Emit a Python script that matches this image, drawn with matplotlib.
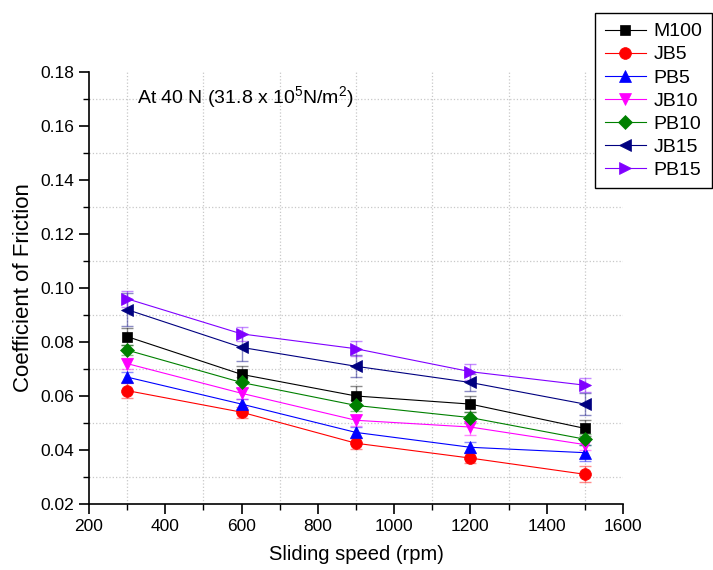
import matplotlib

matplotlib.use("Agg")
import matplotlib.pyplot as plt  # noqa: E402
from matplotlib.ticker import MultipleLocator, FormatStrFormatter  # noqa: E402

plt.rcParams["font.family"] = ["Liberation Sans", "DejaVu Sans"]
plt.rcParams["mathtext.fontset"] = "custom"
plt.rcParams["mathtext.rm"] = "Liberation Sans"

speed = [300, 600, 900, 1200, 1500]

series_names = ["M100", "JB5", "PB5", "JB10", "PB10", "JB15", "PB15"]
m100 = [0.082, 0.068, 0.060, 0.057, 0.048]
jb5 = [0.062, 0.054, 0.0425, 0.037, 0.031]
pb5 = [0.067, 0.057, 0.0465, 0.041, 0.039]
jb10 = [0.072, 0.061, 0.051, 0.0485, 0.042]
pb10 = [0.077, 0.065, 0.0565, 0.052, 0.044]
jb15 = [0.092, 0.078, 0.071, 0.065, 0.057]
pb15 = [0.096, 0.083, 0.0775, 0.069, 0.064]

m100_err = [0.003, 0.003, 0.0037, 0.003, 0.003]
jb5_err = [0.0027, 0.002, 0.002, 0.002, 0.003]
pb5_err = [0.002, 0.002, 0.002, 0.002, 0.003]
jb10_err = [0.002, 0.002, 0.002, 0.003, 0.002]
pb10_err = [0.002, 0.002, 0.002, 0.002, 0.002]
jb15_err = [0.006, 0.005, 0.004, 0.003, 0.004]
pb15_err = [0.003, 0.0027, 0.0027, 0.003, 0.0025]

values = [m100, jb5, pb5, jb10, pb10, jb15, pb15]
errors = [m100_err, jb5_err, pb5_err, jb10_err, pb10_err, jb15_err, pb15_err]
colors = ["black", "#ff0000", "#0000ff", "#ff00ff", "#008000", "#000080", "#8000ff"]
markers = ["s", "o", "^", "v", "D", "<", ">"]
sizes = [7.5, 8.5, 9, 9, 7.5, 9, 9]

fig = plt.figure(figsize=(7.13, 5.70), dpi=100)
ax = fig.add_axes([0.1248, 0.1158, 0.7490, 0.7579])

for name, ys, err, c, m, ms in zip(series_names, values, errors, colors, markers, sizes):
    ax.errorbar(speed, ys, yerr=err, fmt="none", ecolor=c, alpha=0.45,
                elinewidth=1.0, capsize=4, capthick=1.0, zorder=2)
    ax.plot(speed, ys, color=c, lw=0.8, marker=m, markersize=ms,
            markeredgewidth=0.5, label=name, zorder=3)

ax.set_xlim(200, 1600)
ax.set_ylim(0.02, 0.18)
ax.xaxis.set_major_locator(MultipleLocator(200))
ax.xaxis.set_minor_locator(MultipleLocator(100))
ax.yaxis.set_major_locator(MultipleLocator(0.02))
ax.yaxis.set_minor_locator(MultipleLocator(0.01))
ax.yaxis.set_major_formatter(FormatStrFormatter("%.2f"))

ax.spines["top"].set_visible(False)
ax.spines["right"].set_visible(False)
ax.spines["left"].set_linewidth(1.2)
ax.spines["bottom"].set_linewidth(1.2)
ax.tick_params(which="major", direction="out", length=7, width=1.2, labelsize=12.5)
ax.tick_params(which="minor", direction="out", length=4, width=1.0)
ax.grid(which="minor", color="#c8c8c8", linestyle=":", linewidth=0.9)

ax.set_xlabel("Sliding speed (rpm)", fontsize=14.5, labelpad=8)
ax.set_ylabel("Coefficient of Friction", fontsize=16, labelpad=5)

ax.text(326, 0.1707, r"At 40 N (31.8 x 10$\mathregular{^5}$N/m$\mathregular{^2}$)",
        fontsize=14, ha="left", va="center")

ax.legend(loc="upper left", bbox_to_anchor=(0.8345, 0.977),
          bbox_transform=fig.transFigure, fontsize=14, frameon=True,
          fancybox=False, edgecolor="black", framealpha=1,
          handlelength=2.1, handletextpad=0.4, labelspacing=0.28,
          borderpad=0.5, borderaxespad=0)
ax.get_legend().get_frame().set_linewidth(1.0)

fig.savefig("out.png", dpi=100)
plt.close(fig)
